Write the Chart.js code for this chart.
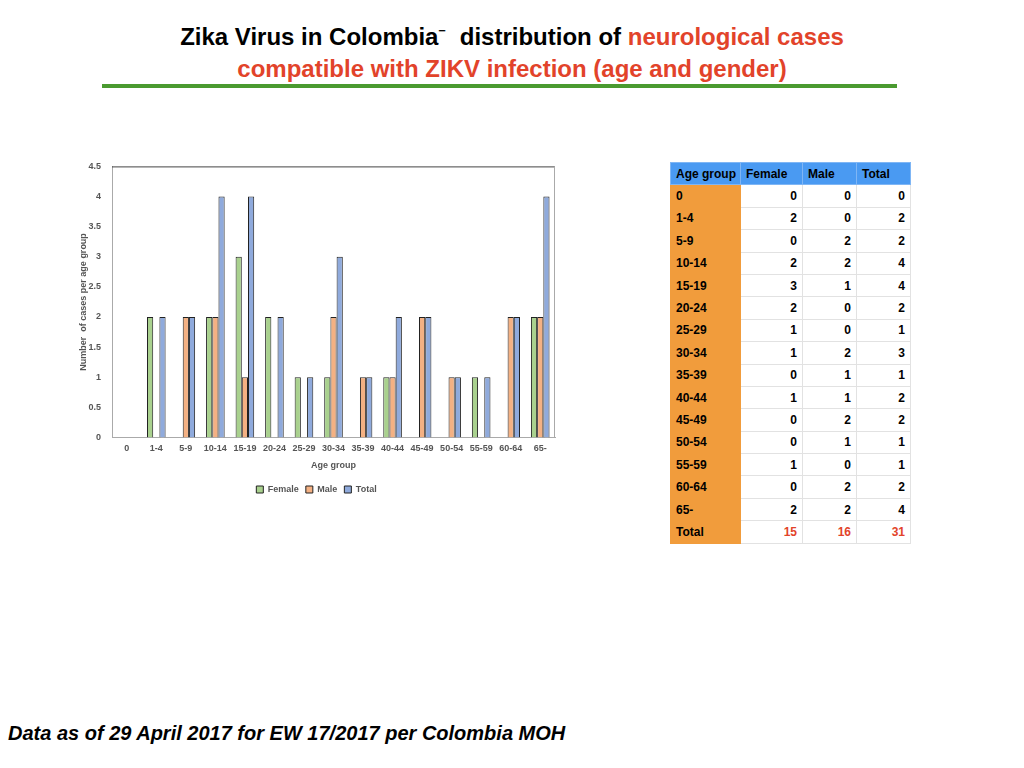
<!DOCTYPE html>
<html>
<head>
<meta charset="utf-8">
<script src="https://cdn.jsdelivr.net/npm/chart.js@4"></script>
<style>
  body { margin: 0; width: 1024px; height: 768px; background: #fff; position: relative; overflow: hidden; font-family: "Liberation Sans", Arial, sans-serif; }
  .title { position: absolute; left: 0; width: 1024px; text-align: center; font-family: "Liberation Sans", sans-serif; font-weight: bold; font-size: 24px; white-space: pre; }
  .red { color: #e2432a; }
  #rule { position: absolute; left: 102px; top: 84px; width: 795px; height: 4px; background: #4a9a30; }
  #wrap { position: absolute; left: 78px; top: 150px; width: 491px; height: 360px; }
  #tbl { position: absolute; left: 670px; top: 162px; border-collapse: collapse; table-layout: fixed; width: 240px; font-size: 12px; font-weight: bold; }
  #tbl td { height: 21.4px; padding: 0 5px; border: 1px solid #e2e2e2; overflow: hidden; white-space: nowrap; }
  #tbl tr:first-child td { background: #4a9af2; border-color: #7fb6f5; text-align: left; }
  #tbl td:first-child { background: #f19c3c; text-align: left; border-color: #f19c3c; }
  #tbl td.num { text-align: right; }
  #tbl tr.tot td.num { color: #e2432a; }
  #foot { position: absolute; left: 8px; top: 722px; font-size: 20px; font-weight: bold; font-style: italic; }
</style>
</head>
<body>
<div class="title" style="top:19px">Zika Virus in Colombia<span style="font-weight:normal">&#8315;</span>  distribution of <span class="red">neurological cases</span></div>
<div class="title red" style="top:55px">compatible with ZIKV infection (age and gender)</div>
<div id="rule"></div>
<div id="wrap"><canvas id="zikaChart"></canvas></div>
<table id="tbl"></table>
<div id="foot">Data as of 29 April 2017 for EW 17/2017 per Colombia MOH</div>
<script>
// Age groups and counts per gender
const ageGroups = ['0', '1-4', '5-9', '10-14', '15-19', '20-24', '25-29', '30-34', '35-39', '40-44', '45-49', '50-54', '55-59', '60-64', '65-'];
const female = [0, 2, 0, 2, 3, 2, 1, 1, 0, 1, 0, 0, 1, 0, 2];
const male   = [0, 0, 2, 2, 1, 0, 0, 2, 1, 1, 2, 1, 0, 2, 2];
const total  = [0, 2, 2, 4, 4, 2, 1, 3, 1, 2, 2, 1, 1, 2, 4];
const totals = [15, 16, 31];

// Build the table next to the chart
const tbl = document.getElementById('tbl');
let html = '<colgroup><col style="width:70px"><col style="width:62px"><col style="width:54px"><col style="width:54px"></colgroup>';
html += '<tr><td>Age group</td><td>Female</td><td>Male</td><td>Total</td></tr>';
for (let i = 0; i < ageGroups.length; i++) {
    html += '<tr><td>' + ageGroups[i] + '</td><td class="num">' + female[i] + '</td><td class="num">' + male[i] + '</td><td class="num">' + total[i] + '</td></tr>';
}
html += '<tr class="tot"><td>Total</td><td class="num">' + totals[0] + '</td><td class="num">' + totals[1] + '</td><td class="num">' + totals[2] + '</td></tr>';
tbl.innerHTML = html;

// Box around the plot area (top and right edges)
const frame = {
    id: 'frame',
    afterDraw(chart) {
        const a = chart.chartArea;
        const c = chart.ctx;
        c.save();
        c.lineWidth = 1;
        c.beginPath();
        c.strokeStyle = '#444';
        c.moveTo(a.left, a.top + 0.5);
        c.lineTo(a.right, a.top + 0.5);
        c.stroke();
        c.beginPath();
        c.strokeStyle = '#aaa';
        c.moveTo(a.right - 0.5, a.top);
        c.lineTo(a.right - 0.5, a.bottom);
        c.stroke();
        c.restore();
    }
};

const tickFont = { family: 'Liberation Sans', size: 9, weight: 'bold' };

const ctx = document.getElementById('zikaChart').getContext('2d');
const zikaChart = new Chart(ctx, {
    type: 'bar',
    data: {
        labels: ageGroups,
        datasets: [
            { label: 'Female', data: female, backgroundColor: '#a9d18e', borderColor: '#222', borderWidth: 1 },
            { label: 'Male', data: male, backgroundColor: '#f4b183', borderColor: '#222', borderWidth: 1 },
            { label: 'Total', data: total, backgroundColor: '#8faadc', borderColor: '#222', borderWidth: 1 }
        ]
    },
    options: {
        responsive: true,
        maintainAspectRatio: false,
        animation: false,
        layout: { padding: { top: 12, right: 14, left: 0, bottom: 6 } },
        datasets: { bar: { categoryPercentage: 0.63, barPercentage: 1 } },
        plugins: {
            legend: {
                position: 'bottom',
                labels: { font: tickFont, color: '#555', boxWidth: 7, boxHeight: 7, padding: 7 }
            },
            tooltip: { enabled: false }
        },
        scales: {
            x: {
                grid: { display: false, drawTicks: false },
                border: { color: '#aaa' },
                ticks: { font: tickFont, color: '#555', maxRotation: 0, autoSkip: false, padding: 6 },
                title: { display: true, text: 'Age group', font: tickFont, color: '#555', padding: { top: 0, bottom: 7 } }
            },
            y: {
                min: 0,
                max: 4.5,
                grid: { display: false, drawTicks: false },
                border: { color: '#aaa' },
                ticks: { stepSize: 0.5, font: tickFont, color: '#555', padding: 11, callback: (v) => String(v) },
                title: { display: true, text: 'Number  of cases per age group', font: { family: 'Liberation Sans', size: 9, weight: 'bold' }, color: '#555', padding: 0 },
                afterFit: (scale) => { scale.width = 34; }
            }
        }
    },
    plugins: [frame]
});
</script>
</body>
</html>
